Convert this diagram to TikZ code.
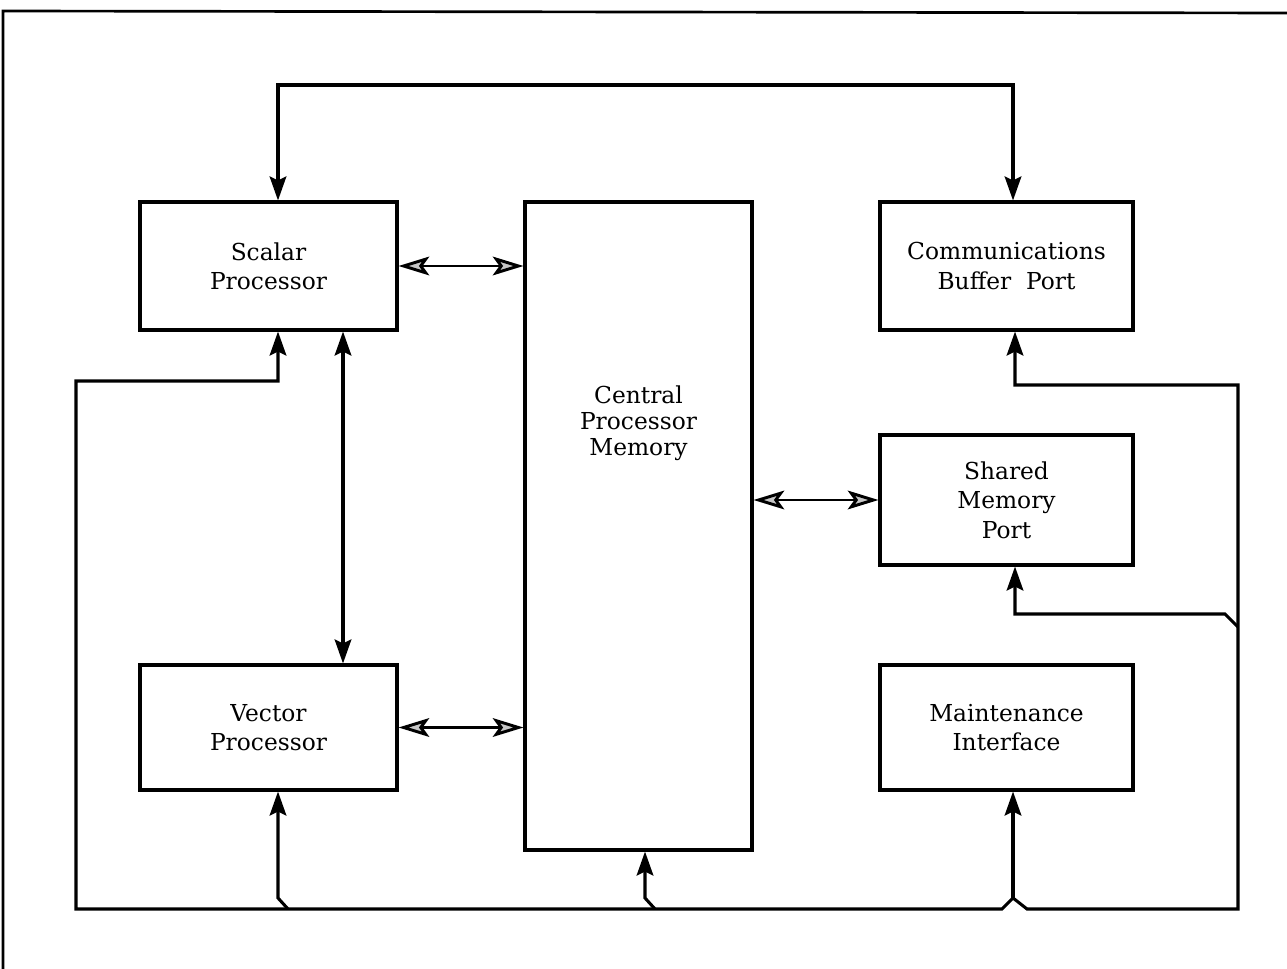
\documentclass[tikz,border=0pt]{standalone}
\usepackage{fontspec}
\setmainfont{DejaVu Serif}
\usetikzlibrary{arrows.meta}
\begin{document}
\begin{tikzpicture}[x=0.75pt,y=-0.75pt,
  box/.style={draw, line width=2.3pt, inner sep=0pt, align=center,
    font=\fontsize{17.5}{22}\selectfont},
  lbl/.style={align=center, inner sep=0pt, font=\fontsize{17.5}{19.5}\selectfont},
  link/.style={line width=2.3pt, line join=miter},
  uparrow/.style={link, -{Stealth[length=18pt,width=12.5pt,inset=3pt]}},
  twoway/.style={link, {Stealth[length=18pt,width=12.5pt,inset=3pt]}-{Stealth[length=18pt,width=12.5pt,inset=3pt]}},
  datalink/.style={line width=2.2pt,
    {Stealth[length=23pt,width=14pt,inset=5pt,fill=gray!45]}-{Stealth[length=23pt,width=14pt,inset=5pt,fill=gray!45]}}]
\useasboundingbox (0,0) rectangle (1287,969);

% page frame
\draw[line width=2pt] (3,969) -- (3,11) -- (1287,13);

% units
\node[box, minimum width=192.75pt, minimum height=96pt] (scalar) at (268.5,266) {Scalar\\Processor};
\node[box, minimum width=192.75pt, minimum height=93.75pt] (vector) at (268.5,727.5) {Vector\\Processor};
\node[box, minimum width=170.25pt, minimum height=486pt] (cpm) at (638.5,526) {};
\node[lbl] (cpmtext) at (638.5,423) {Central\\Processor\\Memory};
\node[box, minimum width=189.75pt, minimum height=96pt] (comm) at (1006.5,266) {Communications\\Buffer~ Port};
\node[box, minimum width=189.75pt, minimum height=97.5pt] (shared) at (1006.5,500) {Shared\\Memory\\Port};
\node[box, minimum width=189.75pt, minimum height=93.75pt] (maint) at (1006.5,727.5) {Maintenance\\Interface};

% routing points
\coordinate (tl) at (278,85);
\coordinate (tr) at (1013,85);
\coordinate (sv) at (343,0);
\coordinate (sfeed) at (278,381);
\coordinate (lcorner) at (76,381);
\coordinate (bl) at (76,909);
\coordinate (mj1) at (1002,909);
\coordinate (mj) at (1013,898);
\coordinate (mj2) at (1027,909);
\coordinate (br) at (1238,909);
\coordinate (shj) at (1238,627);
\coordinate (shk) at (1225,614);
\coordinate (shc) at (1015,614);
\coordinate (rtop) at (1238,385);
\coordinate (cfeed) at (1015,385);
\coordinate (vj) at (288,909);
\coordinate (vk) at (278,898);
\coordinate (cj) at (655,909);
\coordinate (ck) at (645,898);

% loop over the top
\draw[twoway] (tl |- scalar.north) -- (tl) -- (tr) -- (tr |- comm.north);

% data paths to the central memory
\draw[datalink] (scalar.east) -- (scalar.east -| cpm.west);
\draw[datalink] (vector.east) -- (vector.east -| cpm.west);
\draw[datalink] (shared.west -| cpm.east) -- (shared.west);

% scalar <-> vector
\draw[twoway] (sv |- scalar.south) -- (sv |- vector.north);

% maintenance bus
\draw[twoway]
  (sfeed |- scalar.south) -- (sfeed) -- (lcorner) -- (bl) -- (mj1) -- (mj) -- (mj2)
  -- (br) -- (rtop) -- (cfeed) -- (cfeed |- comm.south);
\draw[uparrow] (mj) -- (mj |- maint.south);
\draw[uparrow] (vj) -- (vk) -- (vk |- vector.south);
\draw[uparrow] (cj) -- (ck) -- (ck |- cpm.south);
\draw[uparrow] (shj) -- (shk) -- (shc) -- (shc |- shared.south);
\end{tikzpicture}
\end{document}
